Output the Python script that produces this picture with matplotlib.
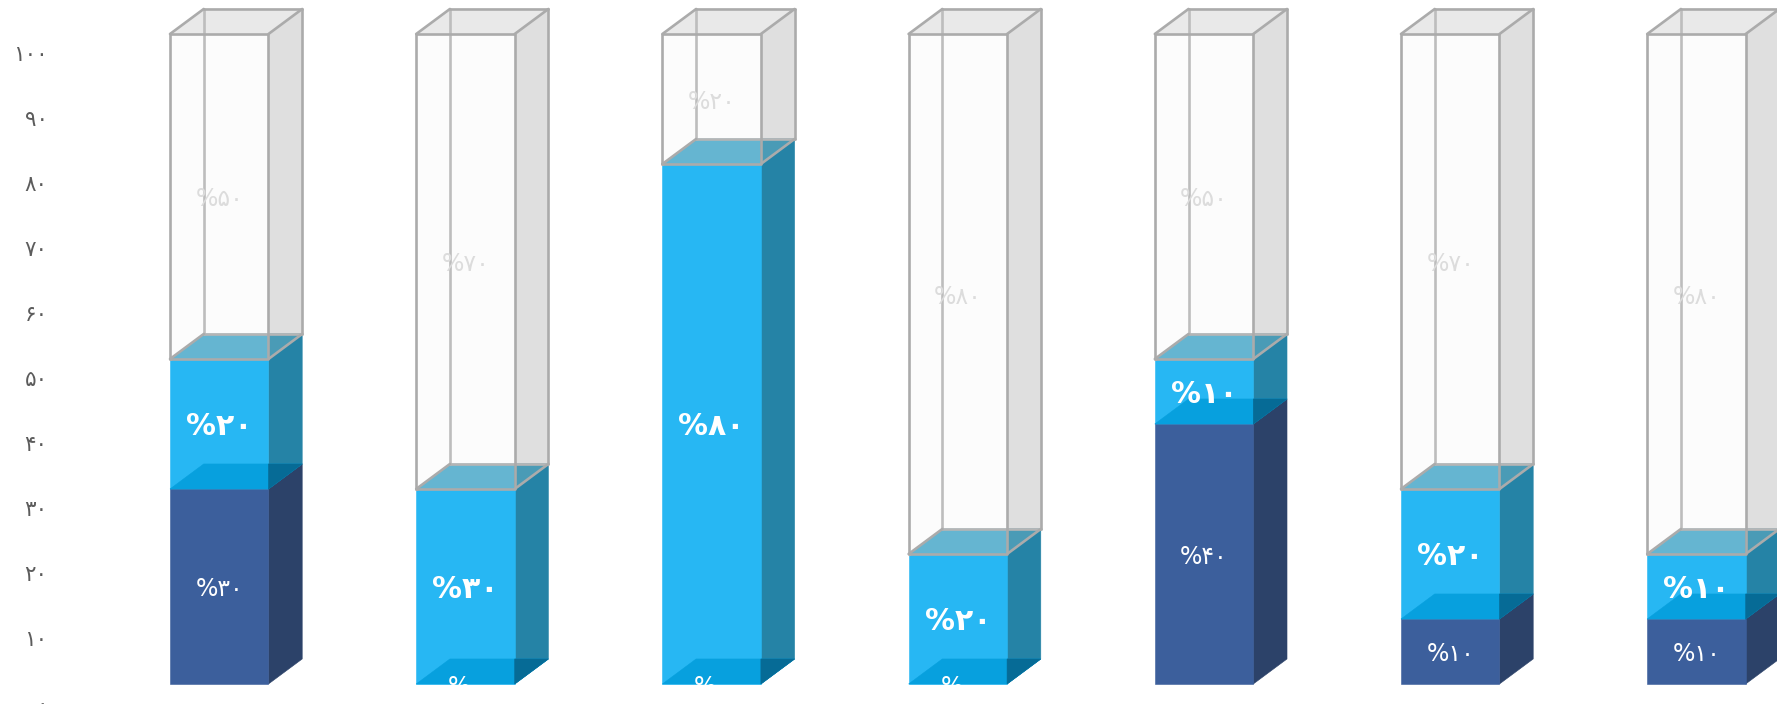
import matplotlib
matplotlib.use('Agg')
import matplotlib.pyplot as plt
from matplotlib.patches import Polygon

# values per bar, bottom to top
dark_values = [30, 0, 0, 0, 40, 10, 10]
light_values = [20, 30, 80, 20, 10, 20, 10]
empty_values = [50, 70, 20, 80, 50, 70, 80]
y_ticks = [0, 10, 20, 30, 40, 50, 60, 70, 80, 90, 100]

PERSIAN = '۰۱۲۳۴۵۶۷۸۹'


def fa(n):
    return ''.join(PERSIAN[int(c)] for c in str(n))


# bar shape in data units (1 on x = one bar step)
W = 0.400
DX = 0.137
DY = 3.85
LINE = '#ababab'
TEXT_DROP = 0.45


def face(ax, pts, color, z):
    # thin edge in the same colour hides the seam between faces
    ax.add_patch(Polygon(pts, closed=True, facecolor=color, edgecolor=color, lw=0.4, zorder=z))


def block(ax, x, y0, y1, front, side, z):
    face(ax, [(x + W, y0), (x + W + DX, y0 + DY), (x + W + DX, y1 + DY), (x + W, y1)], side, z)
    face(ax, [(x, y0), (x + W, y0), (x + W, y1), (x, y1)], front, z)


def lid(ax, x, y, top, corner, z):
    # top of a filled block, the part behind the side wall is darker
    face(ax, [(x, y), (x + W, y), (x + W + DX, y + DY), (x + DX, y + DY)], top, z)
    face(ax, [(x + W, y), (x + W + DX, y + DY), (x + W, y + DY)], corner, z + 0.1)


def seg(ax, xs, ys, color=LINE, lw=1.9, z=6):
    ax.plot(xs, ys, color=color, lw=lw, zorder=z, solid_capstyle='round')


fig = plt.figure(figsize=(17.77, 7.04), dpi=100)
ax = fig.add_axes([0, 0, 1, 1])
ax.set_xlim(-170 / 246.2, (1777 - 170) / 246.2)
ax.set_ylim(-20 / 6.5, 684 / 6.5)
ax.axis('off')

for t in y_ticks:
    ax.text(-0.497, t - 3.25, fa(t), ha='right', va='center', fontsize=15.5, color='#5c5c5c')

for i in range(len(dark_values)):
    d = dark_values[i]
    level = d + light_values[i]
    xc = i + W / 2

    # empty glass behind the water
    block(ax, i, level, 100, '#fcfcfc', '#dfdfdf', 1)
    face(ax, [(i, 100), (i + W, 100), (i + W + DX, 100 + DY), (i + DX, 100 + DY)], '#e9e9e9', 1)

    block(ax, i, d, level, '#27b7f3', '#2583a6', 2)
    if d > 0:
        block(ax, i, 0, d, '#3c5f9c', '#2c4269', 3)
    lid(ax, i, d, '#07a0de', '#066b96', 4)
    lid(ax, i, level, '#65b5d1', '#4a9bb6', 4)

    # back edges of the glass
    seg(ax, [i + DX, i + DX], [level + DY, 100 + DY], color='#bdbdbd', z=5)
    seg(ax, [i + DX, i + W + DX], [level + DY, level + DY], color='#b5b5b5', z=5)
    seg(ax, [i + DX, i + W + DX], [100 + DY, 100 + DY])
    seg(ax, [i + W + DX, i + W + DX], [level + DY, 100 + DY])
    # front edges
    seg(ax, [i, i + W, i + W, i, i], [level, level, 100, 100, level])
    seg(ax, [i, i + DX], [100, 100 + DY])
    seg(ax, [i + W, i + W + DX], [100, 100 + DY])
    seg(ax, [i, i + DX], [level, level + DY])
    seg(ax, [i + W, i + W + DX], [level, level + DY])

    ax.text(xc, d / 2 - TEXT_DROP, '%' + fa(d), ha='center', va='center', fontsize=17,
            color='white', zorder=8)
    ax.text(xc, d + light_values[i] / 2 - TEXT_DROP, '%' + fa(light_values[i]), ha='center', va='center',
            fontsize=21.5, fontweight='bold', color='white', zorder=8)
    ax.text(xc, level + empty_values[i] / 2 - TEXT_DROP, '%' + fa(empty_values[i]), ha='center', va='center',
            fontsize=17, color='#dcdcdc', zorder=8)

fig.savefig('out.png', dpi=100, facecolor='white')
